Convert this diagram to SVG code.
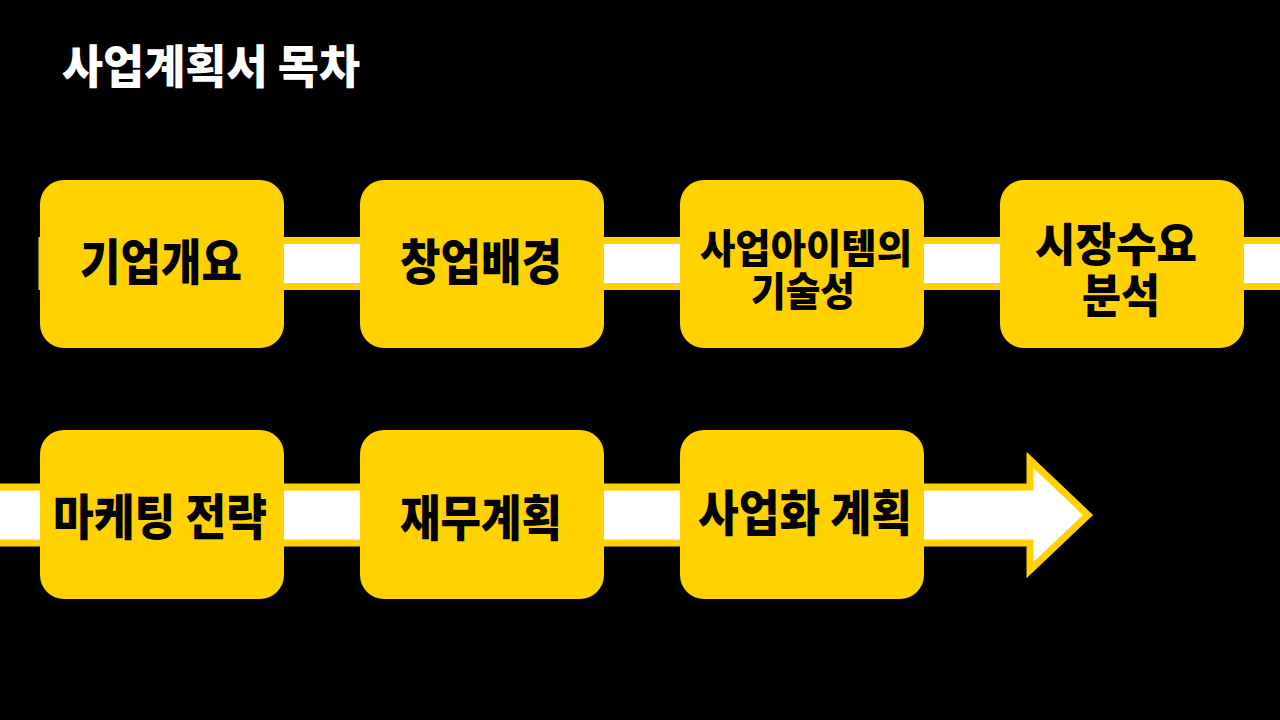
<svg xmlns="http://www.w3.org/2000/svg" width="1280" height="720" viewBox="0 0 1280 720">
<style>
.box{fill:#FFD200}
.band{fill:#FFFFFF;stroke:#FFD200;stroke-width:7}
.t{font-family:"Noto Sans CJK KR","Noto Sans",sans-serif;font-weight:900;fill:#000;text-anchor:middle}
.title{font-family:"Noto Sans CJK KR","Noto Sans",sans-serif;font-weight:900;fill:#fff}
</style>
<rect width="1280" height="720" fill="#000"/>
<text class="title" x="62" y="83" font-size="46" textLength="298" lengthAdjust="spacingAndGlyphs">사업계획서 목차</text>
<g id="connectors">
<rect class="band" x="42" y="240.5" width="1250" height="46"/>
<path class="band" d="M-10 487 H1030 V460 L1088 515 L1030 570 V543 H-10 Z"/>
</g>
<g id="n1"><rect class="box" x="40" y="180" width="244" height="168" rx="24"/><text class="t" x="161" y="280" font-size="49" textLength="162" lengthAdjust="spacingAndGlyphs">기업개요</text></g>
<g id="n2"><rect class="box" x="360" y="180" width="244" height="168" rx="24"/><text class="t" x="481" y="280" font-size="49" textLength="162" lengthAdjust="spacingAndGlyphs">창업배경</text></g>
<g id="n3"><rect class="box" x="680" y="180" width="244" height="168" rx="24"/><text class="t" font-size="40"><tspan x="806" y="263" textLength="212" lengthAdjust="spacingAndGlyphs">사업아이템의</tspan><tspan x="803" y="306" textLength="104" lengthAdjust="spacingAndGlyphs">기술성</tspan></text></g>
<g id="n4"><rect class="box" x="1000" y="180" width="244" height="168" rx="24"/><text class="t" font-size="46"><tspan x="1116" y="261" textLength="162" lengthAdjust="spacingAndGlyphs">시장수요</tspan><tspan x="1121" y="312" textLength="78" lengthAdjust="spacingAndGlyphs">분석</tspan></text></g>
<g id="n5"><rect class="box" x="40" y="430" width="244" height="169" rx="24"/><text class="t" x="160" y="535" font-size="49" textLength="214" lengthAdjust="spacingAndGlyphs">마케팅 전략</text></g>
<g id="n6"><rect class="box" x="360" y="430" width="244" height="169" rx="24"/><text class="t" x="481" y="536" font-size="49" textLength="162" lengthAdjust="spacingAndGlyphs">재무계획</text></g>
<g id="n7"><rect class="box" x="680" y="430" width="244" height="169" rx="24"/><text class="t" x="805" y="531" font-size="49" textLength="214" lengthAdjust="spacingAndGlyphs">사업화 계획</text></g>
</svg>
